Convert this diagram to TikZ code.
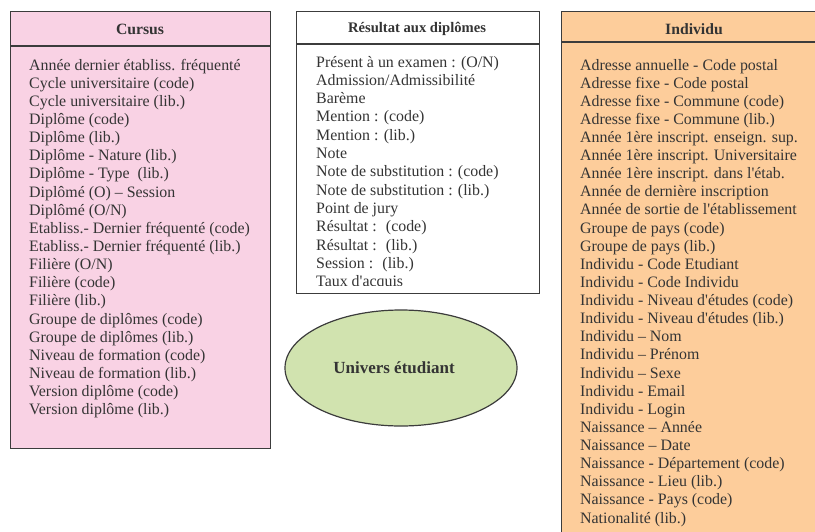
\documentclass[tikz,border=0pt]{standalone}
\usepackage{fontspec}
\setmainfont{Liberation Serif}
\usetikzlibrary{shapes.geometric}
\definecolor{pinkfill}{RGB}{249,210,228}
\definecolor{orangefill}{RGB}{253,205,155}
\definecolor{greenfill}{RGB}{209,227,175}
\definecolor{bordergray}{RGB}{60,60,60}
\definecolor{textgray}{RGB}{52,52,52}
\begin{document}
\begin{tikzpicture}[x=1pt,y=-1pt,
  boxline/.style={draw=bordergray,line width=1.2pt,inner sep=0pt,anchor=north west},
  item/.style={anchor=base west,inner sep=0pt,text=textgray,font=\fontsize{15.9}{18}\selectfont},
  head/.style={inner sep=0pt,text=textgray,font=\bfseries\fontsize{15.7}{18}\selectfont}]
\useasboundingbox (0,0) rectangle (815,531);
\clip (0,0) rectangle (815,531);

% Cursus
\node[boxline,fill=pinkfill,minimum width=260pt,minimum height=437pt] (cursus) at (10,11) {};
\coordinate (cl) at (10,46);
\coordinate (cr) at (270,46);
\draw[draw=bordergray,line width=1.2pt] (cl) -- (cr);
\node[head] (cursushead) at (140,29) {Cursus};
\foreach \t [count=\i] in {Année dernier établiss. fréquenté, Cycle universitaire (code), Cycle universitaire (lib.), Diplôme (code), Diplôme (lib.), Diplôme - Nature (lib.), Diplôme - Type \ (lib.), Diplômé (O) – Session, Diplômé (O/N), Etabliss.- Dernier fréquenté (code), Etabliss.- Dernier fréquenté (lib.), Filière (O/N), Filière (code), Filière (lib.), Groupe de diplômes (code), Groupe de diplômes (lib.), Niveau de formation (code), Niveau de formation (lib.), Version diplôme (code), Version diplôme (lib.)}
  \node[item] (c\i) at (29,{70+18.15*(\i-1)}) {\t};

% Resultat
\node[boxline,fill=white,minimum width=243pt,minimum height=282pt] (result) at (296,11) {};
\coordinate (rl) at (296,44);
\coordinate (rr) at (539,44);
\draw[draw=bordergray,line width=1.2pt] (rl) -- (rr);
\node[head,font=\bfseries\fontsize{14.6}{18}\selectfont] (resulthead) at (417,29) {Résultat aux diplômes};
\begin{scope}
\clip (296,11) rectangle (539,285.3);
\foreach \t [count=\i] in {Présent à un examen : (O/N), Admission/Admissibilité, Barème, Mention : (code), Mention : (lib.), Note, Note de substitution : (code), Note de substitution : (lib.), Point de jury, Résultat : \ (code), Résultat : \ (lib.), Session : \ (lib.), Taux d\textquotesingle acquis}
  \node[item] (r\i) at (316,{67+18.3*(\i-1)}) {\t};
\end{scope}

% Individu
\node[boxline,fill=orangefill,minimum width=270pt,minimum height=530pt] (indiv) at (561,11) {};
\coordinate (il) at (561,42);
\coordinate (ir) at (831,42);
\draw[draw=bordergray,line width=1.2pt] (il) -- (ir);
\node[head] (indivhead) at (694,29) {Individu};
\foreach \t [count=\i] in {Adresse annuelle - Code postal, Adresse fixe - Code postal, Adresse fixe - Commune (code), Adresse fixe - Commune (lib.), Année 1ère inscript. enseign. sup., Année 1ère inscript. Universitaire, Année 1ère inscript. dans l\textquotesingle étab., Année de dernière inscription, Année de sortie de l\textquotesingle établissement, Groupe de pays (code), Groupe de pays (lib.), Individu - Code Etudiant, Individu - Code Individu, Individu - Niveau d\textquotesingle études (code), Individu - Niveau d\textquotesingle études (lib.), Individu – Nom, Individu – Prénom, Individu – Sexe, Individu - Email, Individu - Login, Naissance – Année, Naissance – Date, Naissance - Département (code), Naissance - Lieu (lib.), Naissance - Pays (code), Nationalité (lib.)}
  \node[item] (i\i) at (580,{70+18.12*(\i-1)}) {\t};

% Univers etudiant
\node[ellipse,draw=bordergray,line width=1.2pt,fill=greenfill,minimum width=232pt,minimum height=116pt,inner sep=0pt] (univ) at (401,368) {};
\node[head,font=\bfseries\fontsize{17}{20}\selectfont] (univtext) at (394,368) {Univers étudiant};
\end{tikzpicture}
\end{document}
